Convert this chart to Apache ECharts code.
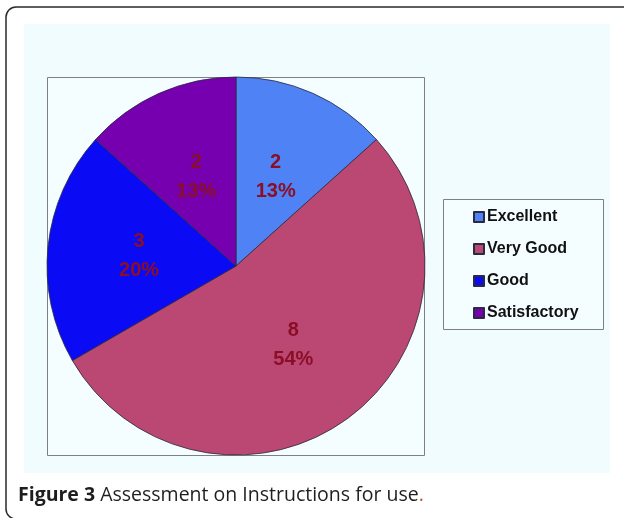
<!DOCTYPE html>
<html>
<head>
<meta charset="utf-8">
<script src="https://cdn.jsdelivr.net/npm/echarts@6/dist/echarts.min.js"></script>
<style>
html,body{margin:0;padding:0;background:#fff;}
#chart{width:624px;height:518px;}
</style>
</head>
<body>
<div id="chart"></div>
<script>
var categories = ['Excellent', 'Very Good', 'Good', 'Satisfactory'];
var values = [2, 8, 3, 2];
var percentLabels = ['13%', '54%', '20%', '13%'];
var colors = ['#4f82f4', '#bb4872', '#0a0af5', '#7600b0'];
var captionBold = 'Figure 3';
var captionText = ' Assessment on Instructions for use';

var chart = echarts.init(document.getElementById('chart'), null, {renderer: 'canvas'});
var option = {
  animation: false,
  backgroundColor: '#ffffff',
  graphic: [
    {type: 'rect', z: -10, shape: {x: 6, y: 7, width: 700, height: 512, r: 10},
     style: {fill: '#ffffff', stroke: '#2a2a2a', lineWidth: 1.5}},
    {type: 'rect', z: -9, shape: {x: 24, y: 24, width: 586, height: 449},
     style: {fill: '#f1fcfe'}},
    {type: 'rect', z: -8, shape: {x: 47.5, y: 77.5, width: 377, height: 378},
     style: {fill: '#f4fdff', stroke: '#7f7f7f', lineWidth: 1}},
    {type: 'rect', z: -8, shape: {x: 443.5, y: 199.5, width: 160, height: 130},
     style: {fill: '#f4fdff', stroke: '#7f7f7f', lineWidth: 1}},
    {type: 'text', z: 10, x: 18, y: 495,
     style: {
       text: '{b|' + captionBold + '}{n|' + captionText + '}{d|.}',
       verticalAlign: 'middle',
       rich: {
         b: {fontFamily: 'Open Sans', fontWeight: 'bold', fontSize: 19.5, fill: '#1e1e1e'},
         n: {fontFamily: 'Open Sans', fontSize: 19.5, fill: '#1e1e1e'},
         d: {fontFamily: 'Open Sans', fontSize: 19.5, fill: '#c0562a'}
       }
     }}
  ],
  legend: {
    orient: 'vertical',
    left: 473,
    top: 209,
    padding: 0,
    itemWidth: 10,
    itemHeight: 10,
    itemGap: 16,
    icon: 'rect',
    selectedMode: false,
    data: categories,
    textStyle: {
      fontFamily: 'Liberation Sans, Arial, sans-serif',
      fontWeight: 'bold',
      fontSize: 16,
      lineHeight: 16,
      color: '#111',
      padding: [0, 0, 0, -2]
    }
  },
  series: [{
    type: 'pie',
    center: [236, 266],
    radius: 189,
    startAngle: 90,
    clockwise: true,
    avoidLabelOverlap: false,
    emphasis: {disabled: true},
    itemStyle: {borderColor: '#2a2a40', borderWidth: 0.8},
    label: {
      show: true,
      position: 'inside',
      fontFamily: 'Liberation Sans, Arial, sans-serif',
      fontWeight: 'bold',
      fontSize: 20,
      lineHeight: 29,
      color: '#8a0f26',
      formatter: function (p) { return p.value + '\n' + percentLabels[p.dataIndex]; }
    },
    labelLine: {show: false},
    data: categories.map(function (c, i) {
      return {name: c, value: values[i], itemStyle: {color: colors[i]}};
    })
  }]
};
chart.setOption(option);
</script>
</body>
</html>
